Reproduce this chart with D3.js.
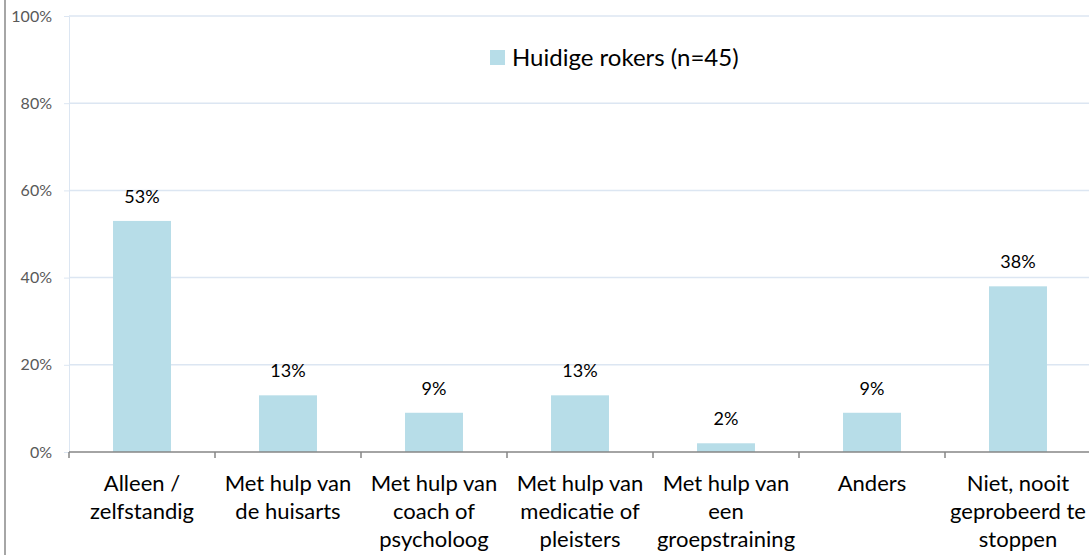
<!DOCTYPE html>
<html><head><meta charset="utf-8">
<script src="https://cdn.jsdelivr.net/npm/d3@7"></script>
<style>body{margin:0;background:#fff}svg{display:block}</style>
</head><body>
<script>
const categories = [
  ["Alleen /", "zelfstandig"],
  ["Met hulp van", "de huisarts"],
  ["Met hulp van", "coach of", "psycholoog"],
  ["Met hulp van", "medicatie of", "pleisters"],
  ["Met hulp van", "een", "groepstraining"],
  ["Anders"],
  ["Niet, nooit", "geprobeerd te", "stoppen"]
];
const values = [53, 13, 9, 13, 2, 9, 38];
const yTicks = [0, 20, 40, 60, 80, 100];
const seriesName = "Huidige rokers (n=45)";

const W = 1089, H = 555;
const m = {left: 69, top: 16, bottom: 452, right: 1091};
const font = "Lato, 'Open Sans', sans-serif";
const svg = d3.select("body").append("svg").attr("width", W).attr("height", H);

// outer left border
svg.append("line").attr("x1", 5).attr("x2", 5).attr("y1", 0).attr("y2", H)
  .attr("stroke", "#a6a6a6").attr("stroke-width", 2);

const keys = categories.map((c, i) => i);
const x = d3.scaleBand().domain(keys).range([m.left, m.right]).paddingInner(0.603).paddingOuter(0.3015);
const y = d3.scaleLinear().domain([0, 100]).range([m.bottom, m.top]);

// gridlines + y axis
const yAxis = svg.append("g").attr("transform", `translate(${m.left},0)`)
  .call(d3.axisLeft(y).tickValues(yTicks).tickFormat(d => d + "%").tickSize(5).tickSizeOuter(0));
yAxis.select(".domain").attr("stroke", "#dce6f2");
yAxis.selectAll(".tick line").attr("stroke", "#dce6f2");
yAxis.selectAll(".tick text").attr("font-family", font).attr("font-size", 16).attr("fill", "#595959").attr("x", -17);
svg.append("g").selectAll("line").data(yTicks.filter(d => d > 0)).join("line")
  .attr("x1", m.left).attr("x2", W).attr("y1", d => y(d)).attr("y2", d => y(d))
  .attr("stroke", "#dce6f2").attr("stroke-width", 1.5);

// bars
svg.append("g").selectAll("rect").data(values).join("rect")
  .attr("x", (d, i) => x(i)).attr("width", x.bandwidth())
  .attr("y", d => y(d)).attr("height", d => y(0) - y(d))
  .attr("fill", "#b7dde8");

// value labels
svg.append("g").selectAll("text").data(values).join("text")
  .attr("x", (d, i) => x(i) + x.bandwidth() / 2).attr("y", d => y(d) - 18)
  .attr("text-anchor", "middle").attr("font-family", font).attr("font-size", 18)
  .attr("fill", "#000").text(d => d + "%");

// x axis
const step = x.step();
const bounds = d3.range(categories.length + 1).map(i => m.left + i * step);
svg.append("line").attr("x1", m.left).attr("x2", W).attr("y1", y(0)).attr("y2", y(0))
  .attr("stroke", "#868686").attr("stroke-width", 1.5);
svg.append("g").selectAll("line").data(bounds).join("line")
  .attr("x1", d => d).attr("x2", d => d).attr("y1", y(0)).attr("y2", y(0) + 6)
  .attr("stroke", "#868686").attr("stroke-width", 1.5);

// category labels
const cat = svg.append("g").selectAll("text").data(categories).join("text")
  .attr("text-anchor", "middle").attr("font-family", font).attr("font-size", 22).attr("fill", "#000");
cat.each(function(lines, i) {
  d3.select(this).selectAll("tspan").data(lines).join("tspan")
    .attr("x", x(i) + x.bandwidth() / 2).attr("y", (l, j) => 491 + j * 28).text(l => l);
});

// legend
svg.append("rect").attr("x", 490).attr("y", 50).attr("width", 15).attr("height", 15).attr("fill", "#b7dde8");
svg.append("text").attr("x", 512).attr("y", 66).attr("font-family", font).attr("font-size", 24)
  .attr("fill", "#000").text(seriesName);
</script>
</body></html>
